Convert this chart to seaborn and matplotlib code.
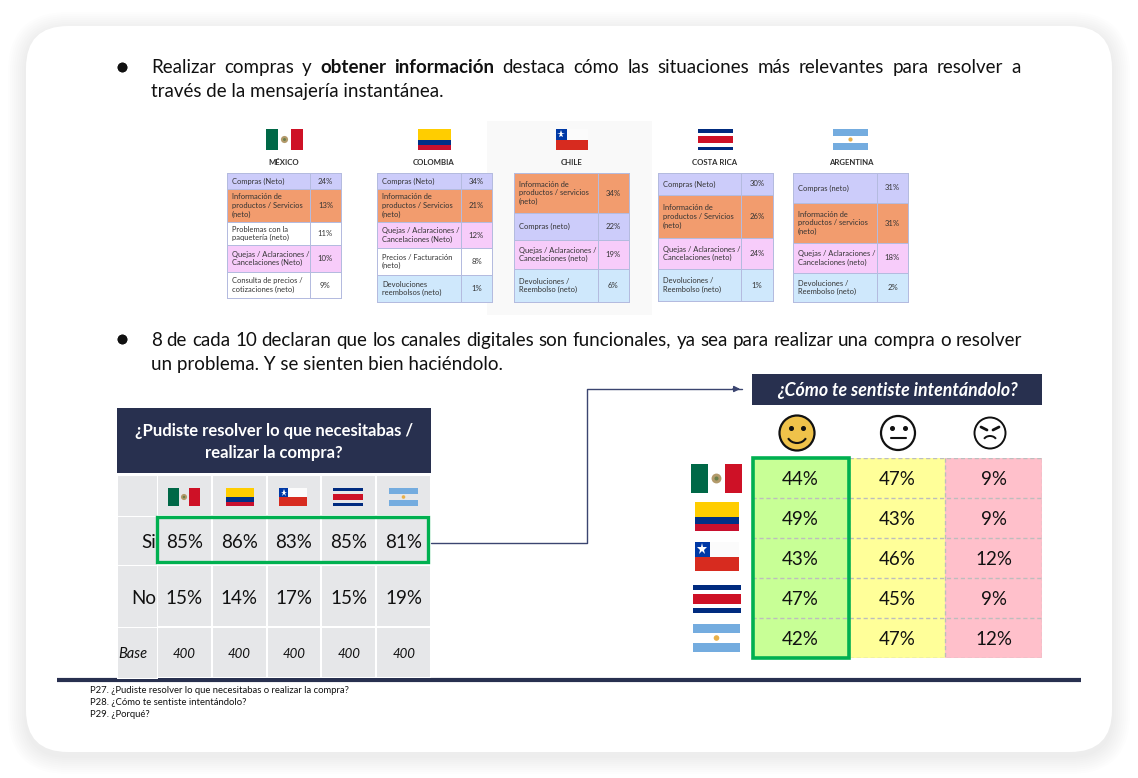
import numpy as np
import matplotlib
matplotlib.use("Agg")
import matplotlib.pyplot as plt
from matplotlib.colors import ListedColormap
from matplotlib.patches import FancyBboxPatch, Rectangle, Circle, Arc
import seaborn as sns

W, H = 1138, 778
NAVY = "#28304F"
GREEN = "#00B050"
GREY = "#E6E7E9"

# small tables at the top
countries = ["MÉXICO", "COLOMBIA", "CHILE", "COSTA RICA", "ARGENTINA"]
flag_keys = ["mx", "co", "cl", "cr", "ar"]
mx_labels = ["Compras (Neto)", "Información de\nproductos / Servicios\n(neto)", "Problemas con la\npaquetería (neto)",
             "Quejas / Aclaraciones /\nCancelaciones (Neto)", "Consulta de precios /\ncotizaciones (neto)"]
mx_values = [24, 13, 11, 10, 9]
mx_kinds = [0, 1, 4, 2, 4]
co_labels = ["Compras (Neto)", "Información de\nproductos / Servicios\n(neto)", "Quejas / Aclaraciones /\nCancelaciones (Neto)",
             "Precios / Facturación\n(neto)", "Devoluciones\nreembolsos (neto)"]
co_values = [34, 21, 12, 8, 1]
co_kinds = [0, 1, 2, 4, 3]
cl_labels = ["Información de\nproductos / servicios\n(neto)", "Compras (neto)", "Quejas / Aclaraciones /\nCancelaciones (neto)",
             "Devoluciones /\nReembolso (neto)"]
cl_values = [34, 22, 19, 6]
cl_kinds = [1, 0, 2, 3]
cr_labels = ["Compras (Neto)", "Información de\nproductos / Servicios\n(neto)", "Quejas / Aclaraciones /\nCancelaciones (neto)",
             "Devoluciones /\nReembolso (neto)"]
cr_values = [30, 26, 24, 1]
cr_kinds = [0, 1, 2, 3]
ar_labels = ["Compras (neto)", "Información de\nproductos / servicios\n(neto)", "Quejas / Aclaraciones /\nCancelaciones (neto)",
             "Devoluciones /\nReembolso (neto)"]
ar_values = [31, 31, 18, 2]
ar_kinds = [0, 1, 2, 3]

# left table
si_values = [85, 86, 83, 85, 81]
no_values = [15, 14, 17, 15, 19]
base_values = [400, 400, 400, 400, 400]

# right table, one row per country: happy, neutral, angry
feeling_values = [[44, 47, 9], [49, 43, 9], [43, 46, 12], [47, 45, 9], [42, 47, 12]]

# layout of the small tables: x left, x split, x right, row edges
small_layout = [
    (227, 310, 341, [173, 189, 222, 245, 272, 298]),
    (377, 461, 492, [173, 189, 222, 248, 275, 302]),
    (514, 598, 629, [173, 213, 240, 269, 302]),
    (658, 741, 773, [173, 195, 238, 269, 301]),
    (793, 877, 908, [173, 203, 243, 273, 302]),
]
small_tables = [(mx_labels, mx_values, mx_kinds), (co_labels, co_values, co_kinds), (cl_labels, cl_values, cl_kinds),
                (cr_labels, cr_values, cr_kinds), (ar_labels, ar_values, ar_kinds)]
kind_colors = ["#CCCCFA", "#F29C6E", "#F7CCFA", "#CFE8FC", "#FFFFFF"]

sns.set_theme(style="white")
plt.rcParams["font.family"] = ["Lato", "DejaVu Sans"]

fig = plt.figure(figsize=(W / 100, H / 100), dpi=100, facecolor="white")


def pixel_axes(x0, y0, x1, y1, z=1):
    return fig.add_axes([x0 / W, 1 - y1 / H, (x1 - x0) / W, (y1 - y0) / H], zorder=z)


base = pixel_axes(0, 0, W, H, 0)
top = pixel_axes(0, 0, W, H, 10)
for a in (base, top):
    a.set_xlim(0, W)
    a.set_ylim(H, 0)
    a.axis("off")
top.patch.set_alpha(0)


def rounded(ax, x0, y0, x1, y1, r, **kw):
    ax.add_patch(FancyBboxPatch((x0 + r, y0 + r), x1 - x0 - 2 * r, y1 - y0 - 2 * r,
                                boxstyle=f"round,pad={r},rounding_size={r}", **kw))


# card with a soft shadow
for grow in range(18, 0, -2):
    rounded(base, 26 - grow, 30 - grow, 1112 + grow, 756 + grow, 42 + grow, fc="black", ec="none", alpha=0.0065)
rounded(base, 26, 26, 1112, 752, 42, fc="white", ec="none")
base.add_patch(Rectangle((487, 121), 165, 194, fc="#F9F9F9", ec="none"))


def flag(ax, key, x0, y0, x1, y1):
    w, h = x1 - x0, y1 - y0

    def band(a, b, c, d, col):
        ax.add_patch(Rectangle((x0 + a * w, y0 + b * h), (c - a) * w, (d - b) * h, fc=col, ec="none"))

    if key == "mx":
        band(0, 0, 1 / 3, 1, "#006847")
        band(2 / 3, 0, 1, 1, "#CE1126")
        ax.add_patch(Circle((x0 + w / 2, y0 + h / 2), h * 0.17, fc="#B39A6B", ec="none"))
        ax.add_patch(Circle((x0 + w / 2, y0 + h / 2), h * 0.07, fc="#6B7F4A", ec="none"))
    elif key == "co":
        band(0, 0, 1, 0.5, "#FFCD00")
        band(0, 0.5, 1, 0.75, "#003087")
        band(0, 0.75, 1, 1, "#C8102E")
    elif key == "cl":
        band(0, 0.5, 1, 1, "#D72B1F")
        band(0, 0, 1, 0.5, "#FBFBFB")
        band(0, 0, 1 / 3, 0.5, "#0039A6")
        ax.plot(x0 + w / 6, y0 + h / 4, marker="*", color="white", ms=h * 0.28, mew=0)
    elif key == "cr":
        band(0, 0, 1, 1 / 6, "#002B7F")
        band(0, 1 / 3, 1, 2 / 3, "#CE1126")
        band(0, 5 / 6, 1, 1, "#002B7F")
    elif key == "ar":
        band(0, 0, 1, 1 / 3, "#74ACDF")
        band(0, 2 / 3, 1, 1, "#74ACDF")
        ax.add_patch(Circle((x0 + w / 2, y0 + h / 2), h * 0.1, fc="#E8B04A", ec="none"))


def justified(ax, segments, x0, x1, y, size):
    """Lay out words one by one so the line fills x0..x1"""
    rend = fig.canvas.get_renderer()
    items = []
    for word, weight in segments:
        t = ax.text(x0, y, word, fontsize=size, fontweight=weight, color="#111111", va="baseline", ha="left")
        bb = t.get_window_extent(rend)
        items.append((t, bb.width))
    gap = (x1 - x0 - sum(i[1] for i in items)) / (len(items) - 1)
    x = x0
    for t, width in items:
        t.set_x(x)
        x += width + gap


def words(line, bold=()):
    return [(w, "bold" if i in bold else "normal") for i, w in enumerate(line.split())]


def nudge(ax, px, pixel_height):
    """Move annotations down by some pixels, the axis is in cell units"""
    n_rows = abs(ax.get_ylim()[0] - ax.get_ylim()[1])
    for t in ax.texts:
        x, y = t.get_position()
        t.set_position((x, y + px * n_rows / pixel_height))


BODY = 13.5
base.plot([122, 122], [67, 67], "o", color="#111111", ms=6)
justified(base, words("Realizar compras y obtener información destaca cómo las situaciones más relevantes para resolver a", (3, 4)),
          151, 1021, 72.5, BODY)
base.text(151, 96.5, "través de la mensajería instantánea.", fontsize=BODY, color="#111111", va="baseline")
base.plot([122, 122], [339, 339], "o", color="#111111", ms=6)
justified(base, words("8 de cada 10 declaran que los canales digitales son funcionales, ya sea para realizar una compra o resolver"),
          151, 1022, 345.5, BODY)
base.text(151, 370, "un problema. Y se sienten bien haciéndolo.", fontsize=BODY, color="#111111", va="baseline")


def cell(x0, y0, x1, y1, code, text, colors, edge, lw, **annot_kws):
    ax = pixel_axes(x0, y0, x1, y1)
    sns.heatmap(np.array([[code]]), ax=ax, cmap=ListedColormap(colors), vmin=0, vmax=len(colors) - 1 if len(colors) > 1 else 1,
                annot=np.array([[text]]), fmt="", annot_kws=annot_kws, cbar=False, linewidths=lw, linecolor=edge,
                xticklabels=False, yticklabels=False)
    ax.collections[0].set_clip_on(False)
    return ax


# small tables
flag_boxes = [(266, 129, 303, 150), (418, 129, 451, 150), (556, 129, 588, 150), (698, 129, 733, 150), (833, 129, 868, 150)]
name_x = [284, 434, 572, 715, 851]
for i, (labels, values, kinds) in enumerate(small_tables):
    x0, xs, x1, edges = small_layout[i]
    flag(base, flag_keys[i], *flag_boxes[i])
    base.text(name_x[i], 162, countries[i], fontsize=5.6, fontweight="bold", color="#303030", ha="center", va="center")
    for j in range(len(labels)):
        y0, y1 = edges[j], edges[j + 1]
        cell(x0, y0, xs, y1, kinds[j], "", kind_colors, "#B4BBDF", 0.7)
        cell(xs, y0, x1, y1, kinds[j], f"{values[j]}%", kind_colors, "#B4BBDF", 0.7, fontsize=5.6, color="#333333")
        top.text(x0 + 5, (y0 + y1) / 2, labels[j], fontsize=5.4, color="#333333", va="center", ha="left", linespacing=1.25)

# left table
base.add_patch(Rectangle((117, 408), 314, 65, fc=NAVY, ec="none"))
base.text(274, 442, "¿Pudiste resolver lo que necesitabas /\nrealizar la compra?", color="white", fontsize=12,
          fontweight="bold", ha="center", va="center", linespacing=1.42)
left_rows = [("", 475, 516, ["" for v in si_values], {}),
             ("Si", 516, 565, [f"{v}%" for v in si_values], dict(fontsize=13.5, color="#111111")),
             ("No", 565, 627, [f"{v}%" for v in no_values], dict(fontsize=13.5, color="#111111")),
             ("Base", 627, 678, [str(v) for v in base_values], dict(fontsize=9.5, color="#111111", fontstyle="italic"))]
for name, y0, y1, texts, kw in left_rows:
    ax = pixel_axes(157, y0, 431, y1)
    sns.heatmap(np.zeros((1, 5)), ax=ax, cmap=ListedColormap([GREY]), annot=np.array([texts]), fmt="", annot_kws=kw, cbar=False,
                linewidths=1.1, linecolor="white", xticklabels=False, yticklabels=False)
    nudge(ax, 2, y1 - y0)
    cell(117, y0, 157, y1, 0, "", [GREY], "white", 0.6)
    if name == "Base":
        top.text(118, (y0 + y1) / 2 + 2, name, fontsize=10.5, fontstyle="italic", color="#111111", va="center", ha="left")
    elif name:
        top.text(156, (y0 + y1) / 2 + 2, name, fontsize=13.5, color="#111111", va="center", ha="right")
left_flags = [(168, 200), (226, 254), (279, 307), (333, 363), (389, 418)]
for key, (x0, x1) in zip(flag_keys, left_flags):
    flag(top, key, x0, 488, x1, 506)
top.add_patch(Rectangle((157, 517), 271, 45, fc="none", ec=GREEN, lw=2.4))

# connector
top.plot([431, 587, 587, 742], [543, 543, 389, 389], color="#3B4570", lw=1)
top.annotate("", xy=(743, 389), xytext=(730, 389), arrowprops=dict(arrowstyle="-|>", color="#3B4570", lw=1, mutation_scale=9))

# right table
base.add_patch(Rectangle((752, 374), 290, 31, fc=NAVY, ec="none"))
base.text(897, 390, "¿Cómo te sentiste intentándolo?", color="white", fontsize=12.8, fontweight="bold", fontstyle="italic",
          ha="center", va="center")
ax = pixel_axes(752, 458, 1042, 658)
codes = np.tile([0, 1, 2], (5, 1))
sns.heatmap(codes, ax=ax, cmap=ListedColormap(["#C8FF96", "#FFFF99", "#FFC0CB"]), vmin=0, vmax=2,
            annot=np.array([[f"{v}%" for v in row] for row in feeling_values]), fmt="",
            annot_kws=dict(fontsize=13.5, color="#111111"), cbar=False, xticklabels=False, yticklabels=False)
nudge(ax, 1.5, 200)
ax.hlines(range(0, 6), 0, 3, color="#BDBDBD", lw=1, ls=(0, (3, 2)))
ax.vlines([1, 2, 3], 0, 5, color="#BDBDBD", lw=1, ls=(0, (3, 2)))
top.add_patch(Rectangle((753, 458), 96, 200, fc="none", ec=GREEN, lw=2.6))
right_flags = [(691, 464, 742, 493), (695, 502, 739, 531), (695, 542, 739, 571), (693, 585, 741, 613), (693, 624, 740, 652)]
for key, box in zip(flag_keys, right_flags):
    flag(top, key, *box)

# faces
top.add_patch(Circle((797, 433), 17.5, fc="#EFC24A", ec="#111111", lw=1.6))
top.plot([791, 803], [428, 428], "o", color="#111111", ms=2.6, ls="none")
top.add_patch(Arc((797, 434), 20, 18, theta1=25, theta2=155, color="#111111", lw=1.5))
top.add_patch(Circle((898, 433), 17, fc="white", ec="#111111", lw=1.6))
top.plot([892, 905], [428, 428], "o", color="#111111", ms=2.6, ls="none")
top.plot([891, 906], [438, 438], color="#111111", lw=1.5)
top.add_patch(Circle((990, 433), 15.5, fc="white", ec="#111111", lw=1.4))
top.plot([981, 987], [427, 430], color="#111111", lw=2)
top.plot([999, 993], [427, 430], color="#111111", lw=2)
top.add_patch(Arc((990, 441), 13, 10, theta1=200, theta2=340, color="#111111", lw=1.4))

# footer
base.plot([57, 1081], [680, 680], color=NAVY, lw=3, solid_capstyle="butt")
footnotes = ["P27. ¿Pudiste resolver lo que necesitabas o realizar la compra?", "P28. ¿Cómo te sentiste intentándolo?", "P29. ¿Porqué?"]
for y, line in zip([690.5, 702.5, 714.5], footnotes):
    base.text(90, y, line, fontsize=6.85, color="#111111", va="center")

fig.savefig("out.png", dpi=100, facecolor="white")
